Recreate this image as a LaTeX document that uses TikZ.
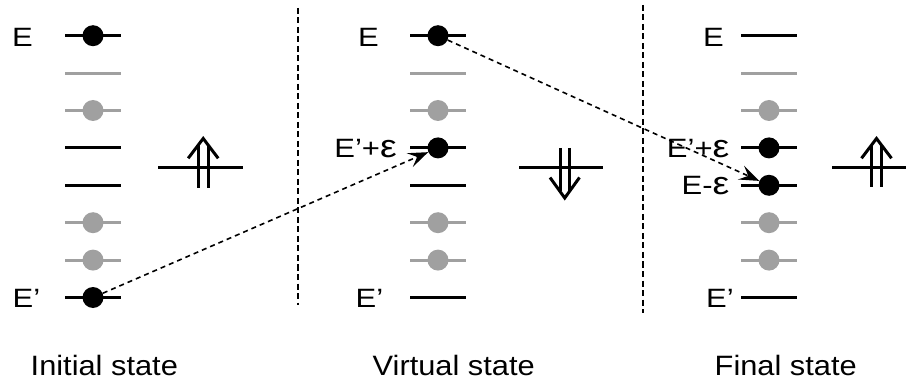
\documentclass[tikz,border=0pt]{standalone}
\usepackage{fontspec}
\setmainfont{Liberation Sans}
\usetikzlibrary{arrows.meta}
\definecolor{gcol}{RGB}{160,160,160}
\newcommand\lbtext[1]{\scalebox{1.17}[1]{#1}}
\newcommand\captxt[1]{\scalebox{1.1}[1]{#1}}
\newcommand\eps{{\fontsize{32}{36}\selectfont ε}}
\begin{document}
\begin{tikzpicture}[x=1pt,y=-1pt,
  lev/.style={line width=3pt},
  blk/.style={lev,draw=black},
  gry/.style={lev,draw=gcol},
  bdot/.style={circle,fill=black,inner sep=0pt,minimum size=21pt},
  gdot/.style={circle,fill=gcol,inner sep=0pt,minimum size=21pt},
  lab/.style={font=\fontsize{26.5}{30}\selectfont,inner sep=0pt,anchor=east},
  captext/.style={font=\fontsize{28}{34}\selectfont,inner sep=0pt,anchor=base west},
  divider/.style={line width=1.5pt,dash pattern=on 6pt off 3.5pt},
  trans/.style={line width=1.6pt,dash pattern=on 5pt off 4pt,-{Stealth[length=20pt,width=15pt,inset=8pt]}},
  spin/.style={line width=3pt}]
\useasboundingbox (0,0) rectangle (906,385);
% energy levels
\foreach \xa/\xb in {65/121,410/466,741/797}{
  \foreach \y/\s in {35.7/blk,73.1/gry,110.5/gry,147.9/blk,185.3/blk,222.7/gry,260.1/gry,297.5/blk}
    \draw[\s] (\xa,\y) -- (\xb,\y);
}
% dots, initial
\node[bdot] (L1) at (93,35.7) {};
\node[gdot] (L3) at (93,110.5) {};
\node[gdot] (L6) at (93,222.7) {};
\node[gdot] (L7) at (93,260.1) {};
\node[bdot] (L8) at (93,297.5) {};
% dots, virtual
\node[bdot] (M1) at (438,35.7) {};
\node[gdot] (M3) at (438,110.5) {};
\node[bdot] (M4) at (438,147.9) {};
\node[gdot] (M6) at (438,222.7) {};
\node[gdot] (M7) at (438,260.1) {};
% dots, final
\node[gdot] (R3) at (769,110.5) {};
\node[bdot] (R4) at (769,147.9) {};
\node[bdot] (R5) at (769,185.3) {};
\node[gdot] (R6) at (769,222.7) {};
\node[gdot] (R7) at (769,260.1) {};
% labels
\node[lab] (lE) at (33,37) {\lbtext{E}};
\node[lab] (lEp) at (40.5,298.5) {\lbtext{E’}};
\node[lab] (mE) at (379,37) {\lbtext{E}};
\node[lab] (mEpe) at (397,148.5) {\lbtext{E’+\eps}};
\node[lab] (mEp) at (383.5,298.5) {\lbtext{E’}};
\node[lab] (rE) at (724,37) {\lbtext{E}};
\node[lab] (rEpe) at (729.5,148.5) {\lbtext{E’+\eps}};
\node[lab] (rEme) at (729.5,186) {\lbtext{E-\eps}};
\node[lab] (rEp) at (734,298.5) {\lbtext{E’}};
% dividers
\draw[divider] (298,8) -- (298,305);
\draw[divider] (643,5) -- (643,313);
% spin flips
\draw[spin] (158,167.5) -- (243,167.5);
\draw[spin] (198.2,188) -- (198.2,145) (208.2,188) -- (208.2,145);
\draw[spin] (188.2,158.3) -- (203.2,138.5) -- (218.2,158.3);
\draw[spin] (519,168) -- (603,168);
\draw[spin] (560,148) -- (560,191) (569.5,148) -- (569.5,191);
\draw[spin] (550,177.5) -- (564.75,198) -- (579.5,177.5);
\draw[spin] (832,167.5) -- (906,167.5);
\draw[spin] (871.5,187) -- (871.5,145) (881.5,187) -- (881.5,145);
\draw[spin] (861.5,158.3) -- (876.5,138.5) -- (891.5,158.3);
% transitions
\draw[trans] (L8) -- (M4);
\draw[trans] (M1) -- (R5);
% captions
\node[captext] (c1) at (30.5,375) {\captxt{Initial state}};
\node[captext] (c2) at (372.5,375) {\captxt{Virtual state}};
\node[captext] (c3) at (714.5,375) {\captxt{Final state}};
\end{tikzpicture}
\end{document}
